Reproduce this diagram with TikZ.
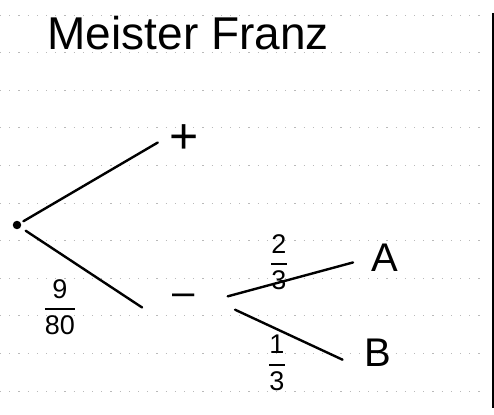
\documentclass[tikz,border=0pt]{standalone}
\usepackage{amsmath}
\usepackage{fontspec}
\setmainfont{Liberation Sans}

\begin{document}
\begin{tikzpicture}[
  x=1pt, y=-1pt,
  every node/.style={font=\fontsize{40}{44}\selectfont},
  branch/.style={line width=2.4pt, line cap=round},
  fraclabel/.style={font=\fontsize{27}{29}\selectfont},
]

% ---- Page: 494 x 414, y runs downwards ----
\useasboundingbox (0,0) rectangle (494,414);

% ---- Dotted grid paper ----
\foreach \y in {15,52.6,90.2,127.8,165.4,203,240.6,278.2,315.8,353.4,391} {
  \draw[gray!55, line width=0.8pt, dash pattern=on 1.2pt off 8pt] (0,\y) -- (486,\y);
}

% ---- Margin line ----
\draw[line width=2pt] (492.5,13) -- (492.5,408);

% ---- Title ----
\node[anchor=base west, font=\fontsize{46}{50}\selectfont] (title) at (44,50) {Meister Franz};

% ---- Tree nodes ----
\node[circle, fill, inner sep=3pt] (root) at (17,225) {};
\node[inner sep=0pt, minimum width=40pt, minimum height=30pt,
      font=\fontsize{50}{54}\selectfont] (plus) at (184,139) {+};
\node[inner sep=0pt, minimum width=60pt, minimum height=30pt] (minus) at (184,300) {\textendash};
\node[inner sep=2pt] (A) at (385,258) {A};
\node[inner sep=2pt] (B) at (378,353) {B};

% ---- Branches ----
\draw[branch, shorten <=3pt, shorten >=7pt] (root) -- (plus.west);
\draw[branch, shorten <=6pt, shorten >=14pt] (root) -- (minus.south west);
\draw[branch, shorten <=14pt, shorten >=17pt] (minus.east) -- (A.west);
\draw[branch, shorten <=23pt, shorten >=22pt] (minus.east) -- (B.south west);

% ---- Branch probabilities ----
\node[fraclabel] (p-minus) at (60,307) {$\genfrac{}{}{2pt}{0}{\text{9}}{\text{80}}$};
\node[fraclabel] (p-A) at (279,262) {$\genfrac{}{}{2pt}{0}{\text{2}}{\text{3}}$};
\node[fraclabel] (p-B) at (277,363) {$\genfrac{}{}{2pt}{0}{\text{1}}{\text{3}}$};

\end{tikzpicture}
\end{document}
